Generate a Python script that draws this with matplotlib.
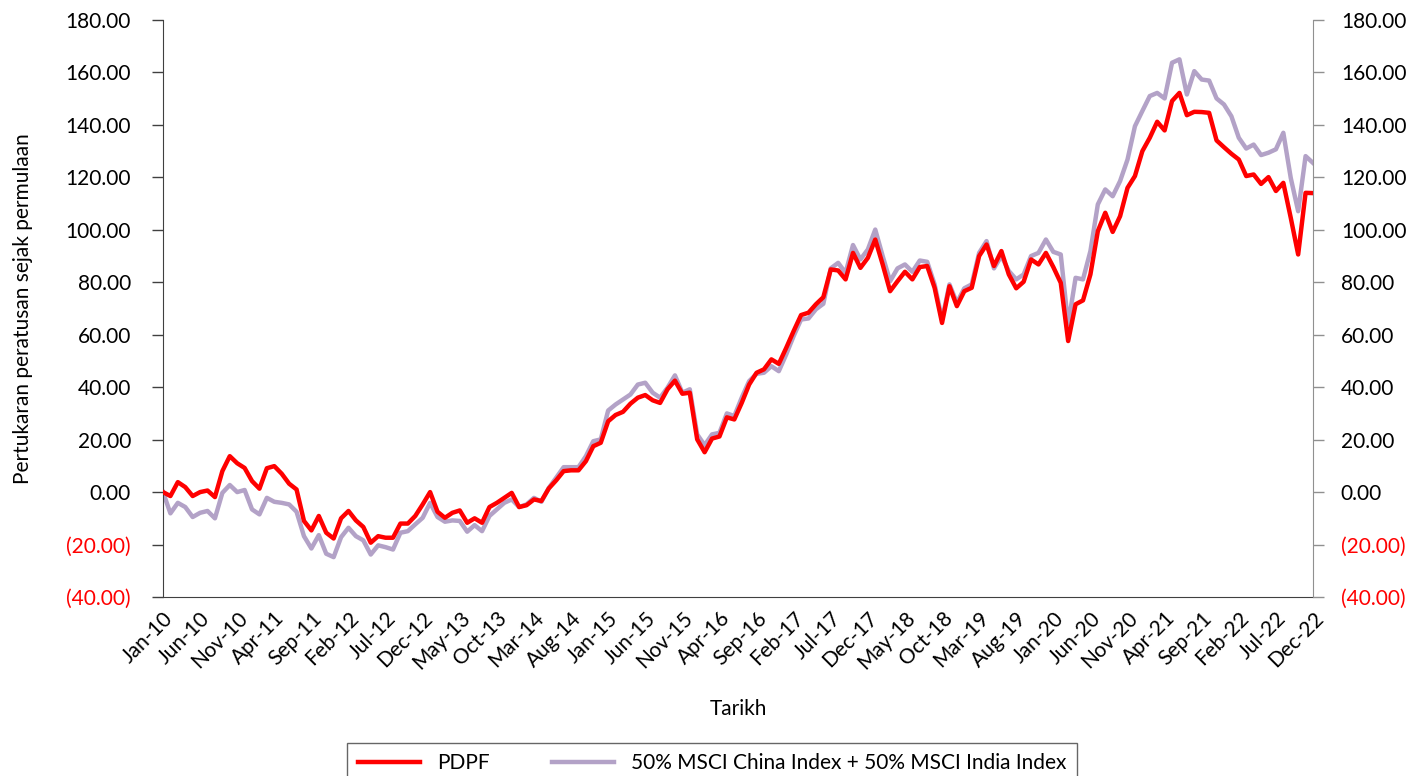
import numpy as np
import pandas as pd
import matplotlib
matplotlib.use("Agg")
import matplotlib.pyplot as plt
from matplotlib.ticker import FuncFormatter

plt.rcParams['font.family'] = ['Lato', 'DejaVu Sans']

months = pd.date_range("2010-01-01", "2022-12-01", freq="MS")

pdpf = [
    0, -1.5, 3.8, 1.9, -1.5, 0, 0.6, -1.9, 8, 13.7, 11, 9.2,
    4.2, 1.3, 9.1, 9.9, 7, 3.2, 1, -11, -14.6, -9.1, -15.5, -17.7,
    -10, -7.2, -10.8, -13.3, -19.3, -16.8, -17.4, -17.4, -12, -12, -9.1, -4.7,
    0, -7.5, -9.8, -7.9, -7, -11.7, -10, -11.7, -5.7, -4.1, -2.2, -0.3,
    -5.7, -5, -2.8, -3.4, 1.4, 4.5, 8, 8.3, 8.3, 11.8, 17.5, 18.8,
    27, 29.4, 30.6, 33.7, 36, 37, 35, 34, 39.2, 42.5, 37.5, 37.9,
    20.1, 15.2, 20.4, 21.2, 28.5, 27.7, 34, 41, 45.5, 46.8, 50.6, 48.9,
    55, 61.4, 67.5, 68.4, 71.6, 74.3, 84.9, 84.5, 81.1, 91.2, 85.5, 89.3,
    96.3, 86.8, 76.6, 80.4, 84, 81.1, 85.8, 86.2, 77.9, 64.5, 78.5, 70.9,
    76.6, 77.9, 90, 94.4, 86.2, 91.9, 83, 77.7, 80.2, 88.7, 86.8, 91.2,
    85.8, 79.8, 57.6, 71.6, 73.1, 83, 99.5, 106.5, 99.2, 105.2, 116, 120.5,
    130, 135.1, 141.2, 137.9, 149.1, 152.2, 143.7, 145, 144.9, 144.6, 134.1, 131.5,
    129, 126.8, 120.5, 121.1, 117.5, 120.1, 114.8, 117.9, 104.6, 90.6, 114.1, 114,
]

benchmark = [
    0, -8.1, -4.1, -5.7, -9.5, -7.9, -7.2, -10, -0.3, 2.7, 0, 0.8,
    -6.6, -8.5, -2.2, -3.7, -4.1, -4.7, -7.5, -16.8, -21.5, -16.4, -23.5, -24.8,
    -17.2, -13.6, -16.8, -18.4, -23.8, -20.3, -21, -21.9, -15.5, -14.9, -12.3, -9.8,
    -4.1, -9.5, -11.3, -10.8, -11, -15.1, -12.6, -14.9, -9.1, -6.6, -4.1, -2.8,
    -5.7, -4.7, -2.2, -3.7, 1.6, 5.5, 9.5, 9.5, 9.5, 13.7, 19.4, 20.1,
    31.1, 33.4, 35.3, 37.2, 41, 41.7, 37.9, 36, 39.8, 44.5, 37.9, 39.2,
    22, 17.9, 22, 22.6, 30, 29, 36, 42.3, 45.1, 45.5, 48, 46.1,
    52.5, 59.5, 65.8, 66.2, 69.7, 71.8, 85.3, 87.4, 83.6, 94.2, 88.7, 92.5,
    100.1, 90, 80.4, 85.3, 86.8, 84, 88.3, 87.8, 79.2, 65.8, 79.2, 72.2,
    77.7, 79.2, 91.2, 95.7, 85.3, 90, 84.3, 81.1, 83, 90, 91.2, 96.3,
    91.6, 90.6, 63.9, 81.7, 81.1, 91.9, 109.7, 115.4, 112.8, 118.6, 126.8, 139.5,
    145.3, 151, 152.2, 150.1, 163.7, 165, 151.6, 160.5, 157.3, 156.9, 150.1, 147.8,
    143.3, 135.1, 131, 132.5, 128.5, 129.4, 130.7, 137, 119.8, 107.1, 128.1, 125.5,
]

tick_labels = [d.strftime("%b-%y") for d in months[::5]]
y_ticks = np.arange(-40, 181, 20)


def fmt(v, pos):
    if v < 0:
        return "({:.2f})".format(-v)
    return "{:.2f}".format(v)


fig = plt.figure(figsize=(14.24, 7.76), dpi=100)
ax = fig.add_axes([163 / 1424, 1 - 597 / 776, 1150 / 1424, 577 / 776])

x = np.arange(len(months))
ax.plot(x, pdpf, color='#ff0000', lw=3.2, label='PDPF', zorder=3)
ax.plot(x, benchmark, color='#b3a2c7', lw=3.2,
        label='50% MSCI China Index + 50% MSCI India Index', zorder=2)

ax.set_xlim(0, len(months) - 1)
ax.set_ylim(-40, 180)
ax.set_xticks(x[::5])
ax.set_xticklabels(tick_labels, rotation=45, ha='right', rotation_mode='anchor', fontsize=15)
ax.tick_params(axis='x', length=0, pad=8)
ax.set_yticks(y_ticks)
ax.yaxis.set_major_formatter(FuncFormatter(fmt))
ax.tick_params(axis='y', labelsize=15, length=8, width=1, color='#404040', pad=15)

ax2 = ax.twinx()
ax2.set_ylim(-40, 180)
ax2.set_yticks(y_ticks)
ax2.yaxis.set_major_formatter(FuncFormatter(fmt))
ax2.tick_params(axis='y', labelsize=15, length=8, width=1, color='#909090', pad=12)

for a in (ax, ax2):
    a.spines['top'].set_visible(False)
    for lab, v in zip(a.get_yticklabels(), y_ticks):
        lab.set_color('#ff0000' if v < 0 else 'black')
ax.spines['right'].set_visible(False)
ax.spines['left'].set_color('#404040')
ax.spines['bottom'].set_color('#404040')
ax2.spines['left'].set_visible(False)
ax2.spines['bottom'].set_visible(False)
ax2.spines['right'].set_color('#909090')

ax.set_xlabel('Tarikh', fontsize=15)
ax.xaxis.set_label_coords(0.5, -0.177)
ax.xaxis.label.set_va('top')
ax.set_ylabel('Pertukaran peratusan sejak permulaan', fontsize=15)
ax.yaxis.set_label_coords(-0.113, 0.5)

leg = fig.legend(loc='upper center', bbox_to_anchor=(0.5, 1 - 743 / 776), ncol=2, fontsize=15,
                 frameon=True, fancybox=False, edgecolor='#404040',
                 handlelength=3, columnspacing=3, borderpad=0.5, borderaxespad=0)
leg.get_frame().set_linewidth(1)

fig.savefig('out.png', dpi=100)
